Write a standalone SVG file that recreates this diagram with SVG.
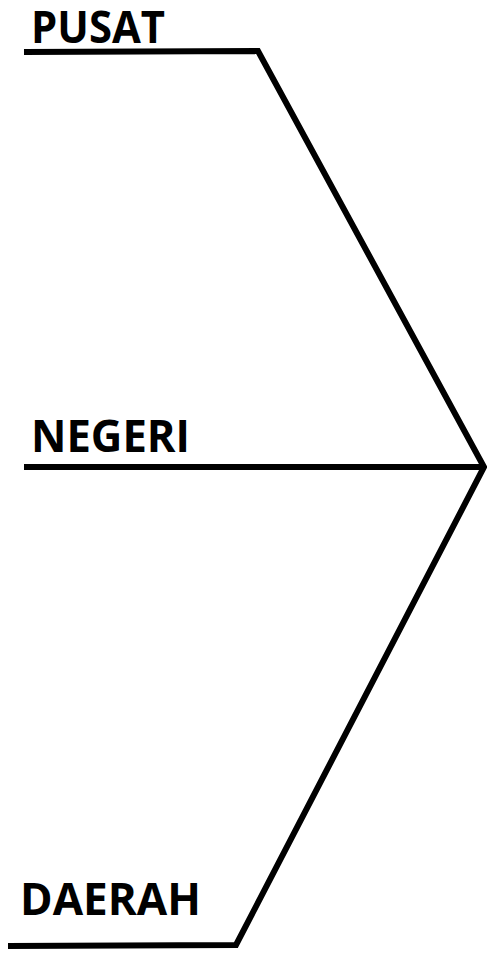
<svg xmlns="http://www.w3.org/2000/svg" width="487" height="958" viewBox="0 0 487 958">
<style>
.lbl{font-family:"Open Sans","Liberation Sans",sans-serif;font-weight:bold;font-size:44px;fill:#000}
.ln{stroke:#000;stroke-width:6;fill:none;stroke-linejoin:miter}
</style>
<rect width="487" height="958" fill="#fff"/>
<g id="connectors">
<polyline class="ln" points="24,52 258,51 484,467 236,945 8,946"/>
<line class="ln" x1="24" y1="467" x2="484" y2="467"/>
</g>
<g id="pusat"><text class="lbl" x="31" y="43" textLength="134" lengthAdjust="spacingAndGlyphs">PUSAT</text></g>
<g id="negeri"><text class="lbl" x="31" y="452" textLength="159" lengthAdjust="spacingAndGlyphs">NEGERI</text></g>
<g id="daerah"><text class="lbl" x="20" y="915" textLength="181" lengthAdjust="spacingAndGlyphs">DAERAH</text></g>
</svg>
